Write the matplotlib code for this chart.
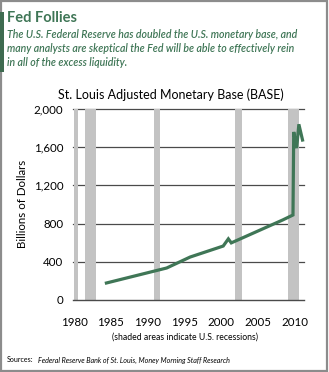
import matplotlib
matplotlib.use('Agg')
import matplotlib.pyplot as plt
from matplotlib.patches import Rectangle

# St. Louis adjusted monetary base, billions of dollars
years = [1984.4, 1992.6, 1995.8, 2000.3, 2001.0, 2001.4, 2008.4, 2009.8, 2009.9, 2010.3, 2010.6, 2011.1]
base = [178, 335, 450, 565, 640, 598, 838, 890, 1760, 1590, 1840, 1675]

# recession shading, as placed on the chart
rec_start = [1980.0, 1981.5, 1990.9, 2001.9, 2009.1]
rec_end = [1980.55, 1983.0, 1991.75, 2002.9, 2010.6]

xticks = [1980, 1985, 1990, 1995, 2000, 2005, 2010]
yticks = [0, 400, 800, 1200, 1600, 2000]
ylabels = ['0', '400', '800', '1,200', '1,600', '2,000']

W, H = 329, 372
green = '#3f7656'
plt.rcParams['font.family'] = ['Lato', 'DejaVu Sans']

fig = plt.figure(figsize=(W / 100, H / 100), dpi=100)
fig.patch.set_facecolor('white')

def fx(px):
	return px / W

def fy(py):
	return 1 - py / H

# frame + green accent bar
fig.add_artist(Rectangle((fx(0.8), fy(370.5)), fx(326.5), 369.5 / H, transform=fig.transFigure,
	fill=False, edgecolor='#8c8c8c', linewidth=1.6))
fig.add_artist(Rectangle((0, fy(72)), fx(4), 60 / H, transform=fig.transFigure,
	color='#3e6b50', linewidth=0))

# header
fig.text(fx(7), fy(18.5), 'Fed Follies', fontsize=10.5, fontweight='bold', color=green, va='center')
sub = ['The U.S. Federal Reserve has doubled the U.S. monetary base, and',
	'many analysts are skeptical the Fed will be able to effectively rein',
	'in all of the excess liquidity.']
for i, s in enumerate(sub):
	fig.text(fx(7), fy(35 + i * 14), s, fontsize=7.6, style='italic', fontweight='semibold',
		color=green, va='center')

ax = fig.add_axes([fx(73), fy(300), (304 - 73) / W, (300 - 109) / H])
ax.set_xlim(1979.85, 2011.3)
ax.set_ylim(0, 2000)

for y in yticks[1:]:
	ax.axhline(y, color='#4a4a4a', linewidth=0.9, zorder=1, clip_on=False)
for a, b in zip(rec_start, rec_end):
	ax.axvspan(a, b, color='#c3c3c3', linewidth=0, zorder=2)
ax.plot(years, base, color=green, linewidth=2.3, zorder=3, clip_on=False, solid_joinstyle='miter')

for s in ['left', 'right', 'top']:
	ax.spines[s].set_visible(False)
ax.spines['bottom'].set_color('#4a4a4a')
ax.spines['bottom'].set_linewidth(1.0)
ax.spines['bottom'].set_zorder(4)

ax.set_xticks(xticks)
ax.set_xticklabels([str(x) for x in xticks], fontsize=8.3)
ax.set_yticks(yticks)
ax.set_yticklabels(ylabels, fontsize=8.3)
ax.tick_params(length=0)
ax.tick_params(axis='x', pad=12)
ax.tick_params(axis='y', pad=7)

fig.text(fx(171), fy(95), 'St. Louis Adjusted Monetary Base (BASE)', fontsize=9.0, ha='center', va='center')
fig.text(fx(23), fy(204), 'Billions of Dollars', fontsize=8.3, rotation=90, ha='center', va='center')
fig.text(fx(185), fy(337), '(shaded areas indicate U.S. recessions)', fontsize=6.2, ha='center', va='center')

fig.text(fx(7), fy(360), 'Sources:', fontsize=5.1, va='center')
fig.text(fx(38), fy(360), 'Federal Reserve Bank of St. Louis, Money Morning Staff Research',
	fontsize=5.1, style='italic', va='center')

plt.savefig('out.png', dpi=100)
